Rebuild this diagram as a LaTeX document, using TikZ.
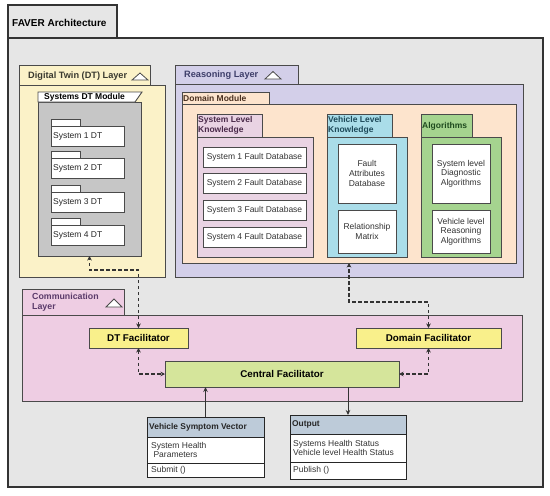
\documentclass[tikz,border=0pt]{standalone}
\usepackage{fontspec}
\setmainfont{Liberation Sans}
\usetikzlibrary{arrows.meta}
\definecolor{lineC}{HTML}{4A4A4A}
\definecolor{outerC}{HTML}{E6E6E6}
\definecolor{dtC}{HTML}{FBF2C8}
\definecolor{modC}{HTML}{C6C6C6}
\definecolor{reasC}{HTML}{D3CFE9}
\definecolor{domC}{HTML}{FDE4CD}
\definecolor{slkC}{HTML}{E9D3E3}
\definecolor{vlkC}{HTML}{AADDE9}
\definecolor{algC}{HTML}{A5D48F}
\definecolor{comC}{HTML}{EECDE3}
\definecolor{facC}{HTML}{F9F08B}
\definecolor{cenC}{HTML}{D5E59B}
\definecolor{hdrC}{HTML}{BDCBD9}
\definecolor{reasT}{HTML}{3E3E6A}
\definecolor{domT}{HTML}{4A3020}
\definecolor{slkT}{HTML}{4A2A4A}
\definecolor{vlkT}{HTML}{1E4A5A}
\definecolor{algT}{HTML}{1E4A1E}
\definecolor{comT}{HTML}{5A3A6A}
\definecolor{dtT}{HTML}{3A3A30}
\definecolor{connC}{HTML}{333333}
\begin{document}
\begin{tikzpicture}[x=1pt,y=-1pt,
  rect/.style 2 args={draw=lineC, line width=0.9pt, inner sep=0pt, outer sep=0pt,
    anchor=north west, minimum width=#1, minimum height=#2},
  whitebox/.style={fill=white},
  big/.style={font=\fontsize{10}{12}\selectfont\bfseries, inner sep=0pt},
  layerlbl/.style={font=\fontsize{9.2}{10.5}\selectfont\bfseries, inner sep=0pt, anchor=west},
  modlbl/.style={font=\fontsize{8.5}{9.8}\selectfont\bfseries, inner sep=0pt, anchor=west, align=left},
  txt/.style={font=\fontsize{8.5}{9.6}\selectfont, inner sep=0pt, align=center},
  ltxt/.style={font=\fontsize{8.5}{9.6}\selectfont, inner sep=0pt, anchor=west, align=left},
  tri/.style={draw=lineC, fill=white, line width=0.8pt},
  dconn/.style={draw=connC, line width=1.4pt, dash pattern=on 3.5pt off 2.5pt,
    {Stealth[length=4.5pt,width=4.5pt]}-{Stealth[length=4.5pt,width=4.5pt]}},
  sconn/.style={draw=connC, line width=0.9pt, -{Stealth[length=5pt,width=4.5pt]}}
]
\useasboundingbox (0,0) rectangle (550,496);
\fill[white] (0,0) rectangle (550,496);

% Outer frame
\node[rect={535}{449}, fill=outerC, draw=black!80, line width=1.1pt] (outer) at (8,38) {};
\node[rect={109}{33}, fill=outerC, draw=black!80, line width=1.1pt] (outertab) at (8,5) {};
\node[big, anchor=west] (outerlbl) at (12,23) {FAVER Architecture};

% Digital Twin layer
\node[rect={146}{192}, fill=dtC] (dtlayer) at (19,85) {};
\node[rect={131}{20}, fill=dtC] (dttab) at (19,65) {};
\node[layerlbl, text=dtT] (dtlbl) at (28,76) {Digital Twin (DT) Layer};
\draw[tri] (132,80) -- (140,73) -- (148,80) -- cycle;

% Systems DT module
\node[rect={103}{154}, fill=modC] (dtmod) at (38,102) {};
\draw[draw=lineC, line width=0.9pt, fill=white] (38,92) -- (142,92) -- (135,102) -- (38,102) -- cycle;
\node[modlbl] (dtmodlbl) at (44,97.5) {Systems DT Module};

\foreach \i/\t in {1/119,2/151,3/185,4/218}{
  \node[rect={29}{7}, whitebox] (sys\i tab) at (51,\t) {};
  \node[rect={73}{20}, whitebox] (sys\i) at (51,\t+7) {};
  \node[ltxt, text=black!85] (sys\i lbl) at (53,\t+17.5) {System \i\ DT};
}

% Reasoning layer
\node[rect={348}{193}, fill=reasC] (reas) at (175,84) {};
\node[rect={123}{19}, fill=reasC] (reastab) at (175,65) {};
\node[layerlbl, text=reasT] (reaslbl) at (184,75) {Reasoning Layer};
\draw[tri] (265,79) -- (273,71.5) -- (281,79) -- cycle;

% Domain module
\node[rect={334}{159}, fill=domC] (dommod) at (182,104) {};
\node[rect={87}{12}, fill=domC] (domtab) at (182,92) {};
\node[modlbl, text=domT] (domlbl) at (183,98.5) {Domain Module};

% System level knowledge
\node[rect={116}{120}, fill=slkC] (slk) at (197,137) {};
\node[rect={65}{23}, fill=slkC] (slktab) at (197,114) {};
\node[modlbl, text=slkT] (slklbl) at (198,125.5) {System Level\\Knowledge};
\foreach \i/\t in {1/147,2/173,3/200,4/227}{
  \node[rect={103}{20}, whitebox] (fdb\i) at (203,\t) {};
  \node[txt, text=black!80] (fdb\i lbl) at (fdb\i.center) {System \i\ Fault Database};
}

% Vehicle level knowledge
\node[rect={80}{120}, fill=vlkC] (vlk) at (327,137) {};
\node[rect={65}{23}, fill=vlkC] (vlktab) at (327,114) {};
\node[modlbl, text=vlkT] (vlklbl) at (328,125.5) {Vehicle Level\\Knowledge};
\node[rect={58}{59}, whitebox] (fad) at (338,144) {};
\node[txt, text=black!80] (fadlbl) at (fad.center) {Fault\\Attributes\\Database};
\node[rect={58}{43}, whitebox] (rm) at (338,210) {};
\node[txt, text=black!80] (rmlbl) at (rm.center) {Relationship\\Matrix};

% Algorithms
\node[rect={80}{120}, fill=algC] (alg) at (421,137) {};
\node[rect={51}{23}, fill=algC] (algtab) at (421,114) {};
\node[modlbl, text=algT] (alglbl) at (422,126.5) {Algorithms};
\node[rect={58}{59}, whitebox] (sda) at (432,144) {};
\node[txt, text=black!80] (sdalbl) at (sda.center) {System level\\Diagnostic\\Algorithms};
\node[rect={58}{43}, whitebox] (vra) at (432,210) {};
\node[txt, text=black!80] (vralbl) at (vra.center) {Vehicle level\\Reasoning\\Algorithms};

% Communication layer
\node[rect={500}{86}, fill=comC] (com) at (22,315) {};
\node[rect={102}{26}, fill=comC] (comtab) at (22,289) {};
\node[modlbl, text=comT, font=\fontsize{8.8}{10.5}\selectfont\bfseries] (comlbl) at (32,302) {Communication\\Layer};
\draw[tri] (106,307) -- (114,299) -- (122,307) -- cycle;

\node[rect={99}{20}, fill=facC] (dtfac) at (89,328) {};
\node[big, font=\fontsize{9.8}{11}\selectfont\bfseries] (dtfaclbl) at (dtfac.center) {DT Facilitator};
\node[rect={145}{20}, fill=facC] (domfac) at (356,328) {};
\node[big, font=\fontsize{9.8}{11}\selectfont\bfseries] (domfaclbl) at (domfac.center) {Domain Facilitator};
\node[rect={234}{26}, fill=cenC] (central) at (165,361) {};
\node[big, font=\fontsize{9.8}{11}\selectfont\bfseries] (centrallbl) at (central.center) {Central Facilitator};

% Class boxes
\node[rect={117}{20}, fill=hdrC, draw=black!85] (vsv) at (147,417) {};
\node[modlbl, text=black!85, font=\fontsize{8.4}{9.6}\selectfont\bfseries] (vsvlbl) at (149,427) {Vehicle Symptom Vector};
\node[rect={117}{26}, whitebox, draw=black!85] (vsvbody) at (147,437) {};
\node[ltxt, text=black!80] (vsvbodylbl) at (151,450) {System Health\\\ Parameters};
\node[rect={117}{14}, whitebox, draw=black!85] (vsvops) at (147,463) {};
\node[ltxt, text=black!80] (vsvopslbl) at (151,470.5) {Submit ()};

\node[rect={116}{19}, fill=hdrC, draw=black!85] (output) at (290,415) {};
\node[modlbl, text=black!85, font=\fontsize{8.4}{9.6}\selectfont\bfseries] (outputlbl) at (292,424) {Output};
\node[rect={116}{28}, whitebox, draw=black!85] (outbody) at (290,434) {};
\node[ltxt, text=black!80] (outbodylbl) at (293,448) {Systems Health Status\\Vehicle level Health Status};
\node[rect={116}{17}, whitebox, draw=black!85] (outops) at (290,462) {};
\node[ltxt, text=black!80] (outopslbl) at (293,470.5) {Publish ()};

% Connectors
\draw[dconn] (dtfac.north) |- ([yshift=-14pt]dtmod.south) -- (dtmod.south);
\draw[dconn] (domfac.north) |- ([yshift=-39pt]dommod.south) -- (dommod.south);
\draw[dconn] (dtfac.south) |- (central.west);
\draw[dconn] (domfac.south) |- (central.east);
\draw[sconn] (vsv.north) -- (vsv.north |- central.south);
\draw[sconn] (output.north |- central.south) -- (output.north);
\end{tikzpicture}
\end{document}
